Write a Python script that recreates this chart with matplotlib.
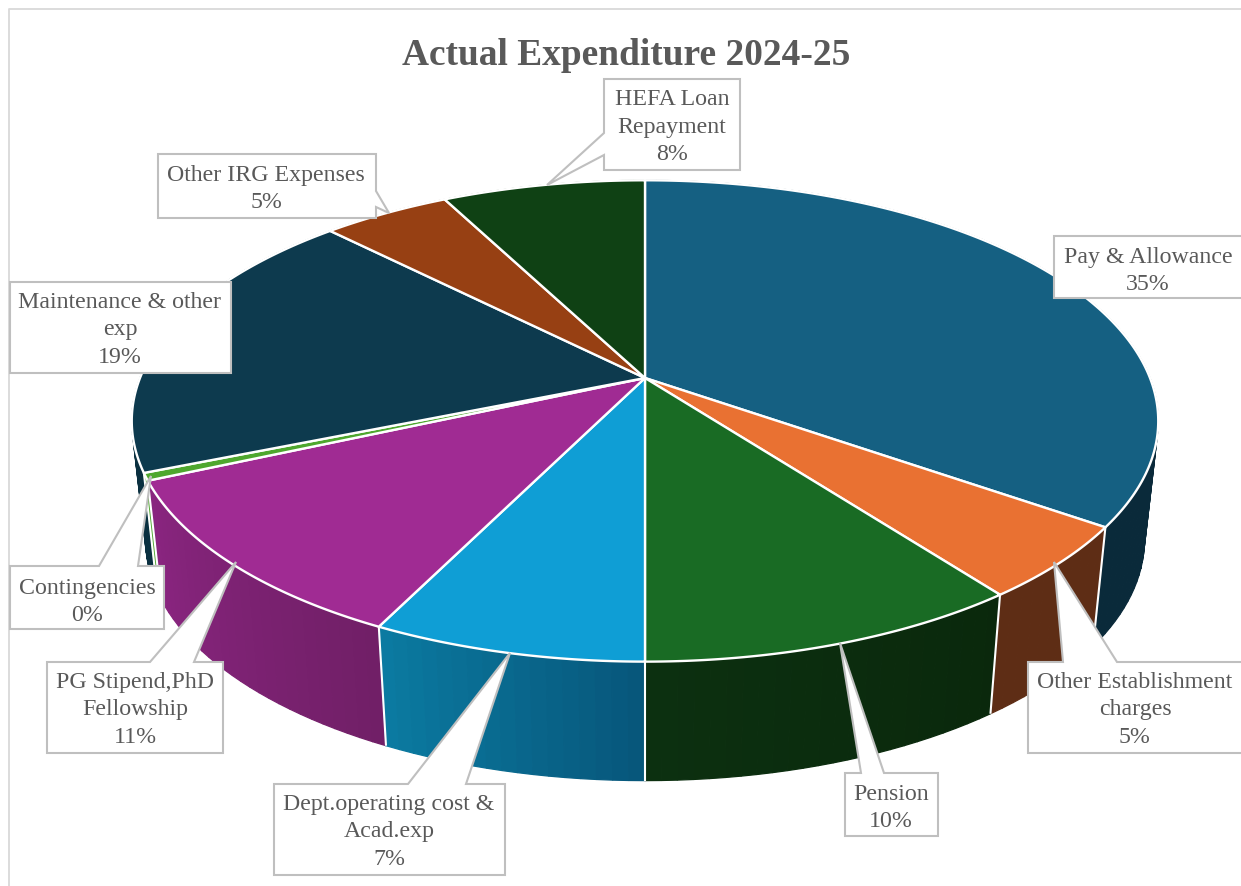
"""Actual Expenditure 2024-25 as a tilted 3D pie, drawn with plain polygons."""
import matplotlib

matplotlib.use("Agg")
import matplotlib.pyplot as plt
import numpy as np
from matplotlib.colors import to_rgb

TITLE = "Actual Expenditure 2024-25"

# share of total (%), clockwise from 12 o'clock
CATEGORIES = [
    "Pay & Allowance",
    "Other Establishment\ncharges",
    "Pension",
    "Dept.operating cost &\nAcad.exp",
    "PG Stipend,PhD\nFellowship",
    "Contingencies",
    "Maintenance & other\nexp",
    "Other IRG Expenses",
    "HEFA Loan\nRepayment",
]
SHARES = [34.75, 4.95, 10.3, 7.3, 11.0, 0.5, 18.8, 4.8, 7.6]

TOP_COLORS = ["#156082", "#E97132", "#196B24", "#0F9ED5", "#A02B93",
              "#4EA72E", "#0D3A4E", "#974013", "#0F4114"]
# side wall colour at the start and end of each slice (clockwise)
SIDE_START = ["#0A2A3A", "#5E2D15", "#0A280C", "#07567A", "#701F66",
              "#4EA72E", "#0A3040", "#5E2D15", "#0A280C"]
SIDE_END = ["#0A2A3A", "#5E2D15", "#0C3010", "#0B7BA2", "#8B2581",
            "#4EA72E", "#0A3040", "#5E2D15", "#0A280C"]

# callout layout in pixels: box (x0, y0, x1, y1), text centre, wedge (base, tip, base)
CALLOUTS = [
    ((1054, 236, 1260, 298), (1148, 271), None),
    ((1028, 662, 1260, 753), (1135, 710), ((1063, 662), (1054, 562), (1117, 662))),
    ((845, 773, 938, 836), (891, 808), ((861, 773), (840, 643), (884, 773))),
    ((274, 784, 505, 875), (389, 832), ((408, 784), (510, 653), (466, 784))),
    ((47, 662, 223, 753), (135, 710), ((150, 662), (236, 562), (194, 662))),
    ((10, 566, 164, 629), (87, 602), ((99, 566), (151, 476), (138, 566))),
    ((10, 282, 231, 373), (120, 330), None),
    ((158, 154, 376, 218), (266, 189), ((376, 191), (389, 213), (376, 207))),
    ((604, 79, 740, 170), (672, 127), ((604, 133), (547, 185), (604, 155))),
]

# perspective of the pie top
CX, CY = 645.0, 378.0
HALF_W, HALF_H, PERSP = 505.0, 233.0, 0.1785
DEPTH = 119.0
BOTTOM_X_SCALE = 0.973

TEXT_COLOR = "#595959"
BOX_EDGE = "#BFBFBF"

plt.rcParams["font.family"] = ["Liberation Serif", "DejaVu Serif"]


def project(theta):
    """Angle clockwise from the top of the pie -> pixel position on the top face."""
    u, v = np.sin(theta), np.cos(theta)
    w = 1.0 + PERSP * v
    return CX + HALF_W * u / w, CY - HALF_H * v / w


def project_bottom(theta):
    x, y = project(theta)
    return CX + BOTTOM_X_SCALE * (x - CX), y + DEPTH


def callout_outline(box, wedge):
    x0, y0, x1, y1 = box
    if wedge is None:
        return [(x0, y0), (x1, y0), (x1, y1), (x0, y1)]
    b0, tip, b1 = wedge
    if b0[1] == y0:  # wedge on top edge
        return [(x0, y0), b0, tip, b1, (x1, y0), (x1, y1), (x0, y1)]
    if b0[0] == x0:  # left edge
        return [(x0, y0), (x1, y0), (x1, y1), (x0, y1), b1, tip, b0]
    return [(x0, y0), (x1, y0), b0, tip, b1, (x1, y1), (x0, y1)]  # right edge


fig = plt.figure(figsize=(12.41, 8.86), dpi=100)
ax = fig.add_axes([0, 0, 1, 1])
ax.set_xlim(0, 1241)
ax.set_ylim(886, 0)
ax.axis("off")

# chart frame, only top and left are inside the crop
ax.plot([9, 9, 1245], [890, 9, 9], color="#D9D9D9", lw=1.3, zorder=1)

edges = 2 * np.pi * np.concatenate([[0.0], np.cumsum(SHARES)]) / np.sum(SHARES)

# side wall: strips, far ones first so that near ones paint over them
strips = []
for i in range(len(SHARES)):
    n = max(2, int(np.degrees(edges[i + 1] - edges[i]) / 1.5))
    ts = np.linspace(edges[i], edges[i + 1], n + 1)
    c0, c1 = np.array(to_rgb(SIDE_START[i])), np.array(to_rgb(SIDE_END[i]))
    for j in range(n):
        mix = (j + 0.5) / n
        strips.append((ts[j], ts[j + 1], tuple(c0 + (c1 - c0) * mix)))
strips.sort(key=lambda s: -np.cos((s[0] + s[1]) / 2))
for t0, t1, col in strips:
    ts = np.array([t0, t1])
    xt, yt = project(ts)
    xb, yb = project_bottom(ts)
    ax.fill([xt[0], xt[1], xb[1], xb[0]], [yt[0], yt[1], yb[1], yb[0]],
            facecolor=col, edgecolor=col, lw=0.9, zorder=2)

# white seams on the side wall
for t in edges[:-1]:
    xt, yt = project(t)
    xb, yb = project_bottom(t)
    ax.plot([xt, xb], [yt, yb], color="white", lw=1.5, zorder=3, solid_capstyle="butt")

# top face
for i, col in enumerate(TOP_COLORS):
    ts = np.linspace(edges[i], edges[i + 1], 200)
    x, y = project(ts)
    ax.fill(np.r_[CX, x], np.r_[CY, y], facecolor=col, edgecolor="white",
            lw=1.7, joinstyle="round", zorder=4)

# callouts
for name, share, (box, centre, wedge) in zip(CATEGORIES, SHARES, CALLOUTS):
    pts = np.array(callout_outline(box, wedge))
    ax.fill(pts[:, 0], pts[:, 1], facecolor="white", edgecolor=BOX_EDGE,
            lw=1.5, joinstyle="miter", zorder=5)
    ax.text(centre[0], centre[1], f"{name}\n{share:.0f}%", ha="center", va="center",
            ma="center", fontsize=17.2, color=TEXT_COLOR, linespacing=1.41, zorder=6)

ax.text(626, 55, TITLE, ha="center", va="center", fontsize=26.9,
        fontweight="bold", color=TEXT_COLOR, zorder=6)

fig.savefig("out.png", dpi=100)
